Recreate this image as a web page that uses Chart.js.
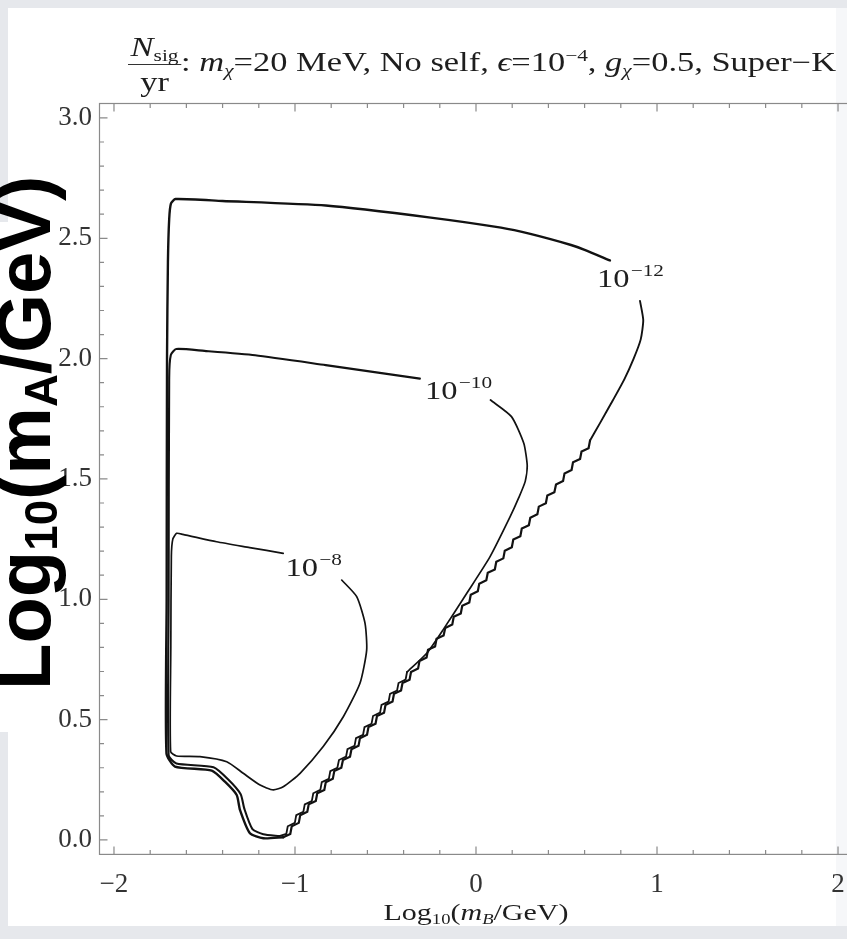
<!DOCTYPE html>
<html>
<head>
<meta charset="utf-8">
<script src="https://cdn.jsdelivr.net/npm/chart.js@4.4.1/dist/chart.umd.min.js"></script>
<style>
  html, body { margin: 0; padding: 0; }
  body { width: 847px; height: 939px; overflow: hidden; position: relative; background: #e6e8ec; font-family: 'Liberation Serif', 'Times New Roman', serif; }
  #panel { position: absolute; left: 8px; top: 8px; width: 828px; height: 918px; background: #fff; }
  #panel2 { position: absolute; left: 0; top: 222px; width: 10px; height: 510px; background: #fff; }
  #rstrip { position: absolute; left: 836px; top: 8px; width: 11px; height: 918px; background: #f6f7f9; }
  #chart { position: absolute; left: 0; top: 0; }
  #ylab { position: absolute; left: -14px; top: 690px; transform-origin: 0 0; transform: rotate(-90deg);
          font: bold 76px 'Liberation Sans', Arial, sans-serif; line-height: 76px; white-space: nowrap; color: #000; }
  #ylab sub { font-size: 0.6em; vertical-align: -0.15em; line-height: 0; }
  #title { position: absolute; left: 128px; top: 34px; transform-origin: 0 0; transform: scaleX(1.3);
           white-space: nowrap; color: #1e1e1e; font-size: 26.5px; line-height: 1; }
  #title .frac { display: inline-block; vertical-align: middle; text-align: center; }
  #title .num { display: block; border-bottom: 1.5px solid #333; padding: 0 2px 3px 2px; }
  #title .den { display: block; padding-top: 4px; }
  #title sub { font-size: 0.62em; vertical-align: -0.3em; line-height: 0; }
  #title sup { font-size: 0.62em; vertical-align: 0.6em; line-height: 0; }
  #xtitle { position: absolute; left: 476px; top: 900px; transform: translateX(-50%) scaleX(1.25);
            white-space: nowrap; color: #1e1e1e; font-size: 24px; line-height: 1; }
  #xtitle sub { font-size: 0.62em; vertical-align: -0.3em; line-height: 0; }
</style>
</head>
<body>
<div id="panel"></div>
<div id="panel2"></div>
<div id="rstrip"></div>
<canvas id="chart" width="870" height="939"></canvas>
<div id="title"><span class="frac"><span class="num"><i>N</i><sub>sig</sub></span><span class="den">yr</span></span>: <i>m</i><sub><i>χ</i></sub>=20 MeV, No self, <i>ϵ</i>=10<sup>−4</sup>, <i>g</i><sub><i>χ</i></sub>=0.5, Super−K</div>
<div id="xtitle">Log<sub>10</sub>(<i>m</i><sub><i>B</i></sub>/GeV)</div>
<div id="ylab">Log<sub>10</sub>(m<sub>A</sub>/GeV)</div>

<script>
// Axis ticks
const xTicks = [-2, -1, 0, 1, 2];
const yTicks = [0, 0.5, 1, 1.5, 2, 2.5, 3];
const xMinor = [-1.8, -1.6, -1.4, -1.2, -0.8, -0.6, -0.4, -0.2, 0.2, 0.4, 0.6, 0.8, 1.2, 1.4, 1.6, 1.8];
const yMinor = [0.1, 0.2, 0.3, 0.4, 0.6, 0.7, 0.8, 0.9, 1.1, 1.2, 1.3, 1.4, 1.6, 1.7, 1.8, 1.9,
                2.1, 2.2, 2.3, 2.4, 2.6, 2.7, 2.8, 2.9];

// N_sig/yr = 1e-12 contour: top edge, left edge and bottom corner
const c12Left = [
  [0.740, 2.408], [0.600, 2.452], [0.525, 2.472], [0.300, 2.518], [0.138, 2.544], [-0.250, 2.586],
  [-0.830, 2.636], [-1.400, 2.655], [-1.660, 2.663], [-1.685, 2.645], [-1.695, 2.580], [-1.702, 2.400],
  [-1.707, 2.000], [-1.709, 1.000], [-1.710, 0.360], [-1.663, 0.305], [-1.460, 0.288], [-1.387, 0.242],
  [-1.322, 0.187], [-1.304, 0.125], [-1.249, 0.028], [-1.175, 0.007], [-1.065, 0.011]
];
// 1e-12 contour: jagged lower-right edge (grid-sampled boundary)
const c12Jag = [
  [-1.065, 0.011], [-1.026, 0.025], [-1.018, 0.057], [-0.979, 0.071], [-0.971, 0.103], [-0.932, 0.117],
  [-0.924, 0.148], [-0.885, 0.162], [-0.877, 0.194], [-0.838, 0.208], [-0.830, 0.240], [-0.791, 0.254],
  [-0.783, 0.286], [-0.744, 0.300], [-0.735, 0.332], [-0.696, 0.346], [-0.688, 0.377], [-0.649, 0.391],
  [-0.641, 0.423], [-0.602, 0.437], [-0.594, 0.469], [-0.555, 0.483], [-0.547, 0.515], [-0.508, 0.529],
  [-0.500, 0.561], [-0.461, 0.575], [-0.453, 0.607], [-0.414, 0.621], [-0.406, 0.652], [-0.367, 0.666],
  [-0.359, 0.698], [-0.320, 0.712], [-0.312, 0.744], [-0.273, 0.758], [-0.265, 0.790], [-0.226, 0.804],
  [-0.218, 0.836], [-0.179, 0.850], [-0.170, 0.881], [-0.131, 0.895], [-0.123, 0.927], [-0.084, 0.941],
  [-0.076, 0.973], [-0.037, 0.987], [-0.029, 1.019], [0.010, 1.033], [0.018, 1.065], [0.057, 1.079],
  [0.065, 1.110], [0.104, 1.124], [0.112, 1.156], [0.151, 1.170], [0.159, 1.202], [0.198, 1.216],
  [0.206, 1.248], [0.245, 1.262], [0.253, 1.294], [0.292, 1.308], [0.300, 1.339], [0.339, 1.353],
  [0.347, 1.385], [0.386, 1.399], [0.394, 1.431], [0.433, 1.445], [0.442, 1.477], [0.481, 1.491],
  [0.489, 1.523], [0.528, 1.537], [0.536, 1.569], [0.575, 1.583], [0.583, 1.614], [0.622, 1.628],
  [0.630, 1.660]
];
// 1e-12 contour: right arc up to its label
const c12Right = [
  [0.630, 1.660], [0.685, 1.732], [0.757, 1.828], [0.820, 1.915], [0.871, 2.000], [0.910, 2.080],
  [0.924, 2.160], [0.906, 2.240]
];

// N_sig/yr = 1e-10 contour
const c10Left = [
  [-0.310, 1.917], [-0.830, 1.973], [-1.220, 2.014], [-1.500, 2.032], [-1.656, 2.040], [-1.686, 2.015],
  [-1.695, 1.920], [-1.698, 1.000], [-1.698, 0.352], [-1.655, 0.318], [-1.450, 0.302], [-1.370, 0.252],
  [-1.300, 0.190], [-1.280, 0.130], [-1.235, 0.045], [-1.175, 0.024], [-1.087, 0.016]
];
const c10Jag = [
  [-1.087, 0.016], [-1.048, 0.025], [-1.040, 0.057], [-1.001, 0.071], [-0.993, 0.103], [-0.954, 0.117],
  [-0.946, 0.148], [-0.907, 0.162], [-0.899, 0.194], [-0.860, 0.208], [-0.852, 0.240], [-0.813, 0.254],
  [-0.805, 0.286], [-0.766, 0.300], [-0.757, 0.332], [-0.718, 0.346], [-0.710, 0.377], [-0.671, 0.391],
  [-0.663, 0.423], [-0.624, 0.437], [-0.616, 0.469], [-0.577, 0.483], [-0.569, 0.515], [-0.530, 0.529],
  [-0.522, 0.561], [-0.483, 0.575], [-0.475, 0.607], [-0.436, 0.621], [-0.428, 0.652], [-0.389, 0.666],
  [-0.381, 0.698]
];
const c10Right = [
  [-0.381, 0.698], [-0.271, 0.777], [-0.182, 0.873], [-0.050, 1.026], [0.077, 1.176], [0.188, 1.342],
  [0.235, 1.420], [0.272, 1.490], [0.283, 1.555], [0.264, 1.648], [0.196, 1.759], [0.080, 1.828]
];

// N_sig/yr = 1e-8 contour
const c8 = [
  [-1.065, 1.191], [-1.250, 1.215], [-1.433, 1.239], [-1.620, 1.270], [-1.654, 1.274], [-1.675, 1.250],
  [-1.683, 1.180], [-1.686, 0.800], [-1.687, 0.367], [-1.654, 0.349], [-1.525, 0.346], [-1.377, 0.325],
  [-1.286, 0.277], [-1.193, 0.228], [-1.120, 0.208], [-1.065, 0.221], [-0.972, 0.277], [-0.844, 0.388],
  [-0.733, 0.512], [-0.641, 0.651], [-0.604, 0.789], [-0.613, 0.900], [-0.659, 1.011], [-0.742, 1.080]
];

// Contour level labels placed in the gaps of each line
const levelLabels = [
  { x: 0.850, y: 2.335, exp: '\u221212' },
  { x: -0.100, y: 1.870, exp: '\u221210' },
  { x: -0.900, y: 1.135, exp: '\u22128' }
];

const toPts = arr => arr.map(p => ({ x: p[0], y: p[1] }));
const LINE = '#121212';
function seg(points, width, extra) {
  return Object.assign({
    data: toPts(points), showLine: true, pointRadius: 0, borderColor: LINE,
    borderWidth: width, fill: false, tension: 0.2, borderJoinStyle: 'round', borderCapStyle: 'round'
  }, extra || {});
}

const framePlugin = {
  id: 'frame',
  afterDatasetsDraw(chart) {
    const { ctx, chartArea: a, scales: { x, y } } = chart;
    ctx.save();
    ctx.strokeStyle = '#8a8a8a';
    ctx.lineWidth = 1.2;
    ctx.strokeRect(a.left, a.top, a.right - a.left, a.bottom - a.top);
    ctx.beginPath();
    const mark = (x0, y0, dx, dy) => { ctx.moveTo(x0, y0); ctx.lineTo(x0 + dx, y0 + dy); };
    xTicks.forEach(v => { const p = x.getPixelForValue(v); mark(p, a.bottom, 0, -8); mark(p, a.top, 0, 8); });
    xMinor.forEach(v => { const p = x.getPixelForValue(v); mark(p, a.bottom, 0, -4.5); mark(p, a.top, 0, 4.5); });
    yTicks.forEach(v => { const p = y.getPixelForValue(v); mark(a.left, p, 8, 0); });
    yMinor.forEach(v => { const p = y.getPixelForValue(v); mark(a.left, p, 4.5, 0); });
    ctx.stroke();
    ctx.restore();
  }
};

const labelPlugin = {
  id: 'levelLabels',
  afterDatasetsDraw(chart) {
    const { ctx, scales: { x, y } } = chart;
    ctx.save();
    ctx.fillStyle = '#1e1e1e';
    ctx.textBaseline = 'alphabetic';
    levelLabels.forEach(l => {
      const px = x.getPixelForValue(l.x), py = y.getPixelForValue(l.y);
      ctx.save();
      ctx.translate(px, py);
      ctx.scale(1.25, 1);
      ctx.font = "26px 'Liberation Serif'";
      const wBase = ctx.measureText('10').width;
      ctx.font = "17px 'Liberation Serif'";
      const wExp = ctx.measureText(l.exp).width;
      const x0 = -(wBase + wExp) / 2;
      ctx.font = "26px 'Liberation Serif'";
      ctx.fillText('10', x0, 9);
      ctx.font = "17px 'Liberation Serif'";
      ctx.fillText(l.exp, x0 + wBase + 1, -2);
      ctx.restore();
    });
    ctx.restore();
  }
};

const tickFont = { family: "'Liberation Serif'", size: 27 };
const fmtX = v => (v < 0 ? '\u2212' + Math.abs(v) : String(v));

new Chart(document.getElementById('chart'), {
  type: 'scatter',
  data: {
    datasets: [
      seg(c12Left, 2.4),
      seg(c12Jag, 2.2, { tension: 0, borderJoinStyle: 'miter' }),
      seg(c12Right, 1.9),
      seg(c10Left, 2.1),
      seg(c10Jag, 1.8, { tension: 0, borderJoinStyle: 'miter' }),
      seg(c10Right, 1.7),
      seg(c8, 1.7)
    ]
  },
  options: {
    responsive: false,
    animation: false,
    devicePixelRatio: 1,
    layout: { padding: { left: 40, top: 103.5, right: 17.5, bottom: 44.6 } },
    plugins: { legend: { display: false }, tooltip: { enabled: false }, title: { display: false } },
    scales: {
      x: {
        type: 'linear', min: -2.08, max: 2.08, position: 'bottom',
        afterBuildTicks: s => { s.ticks = xTicks.map(v => ({ value: v })); },
        afterFit: s => { s.height = 40; },
        grid: { display: false, drawTicks: false },
        border: { display: false },
        ticks: { autoSkip: false, maxRotation: 0, padding: 14, color: '#333', font: tickFont, callback: v => fmtX(v) }
      },
      y: {
        type: 'linear', min: -0.06, max: 3.06, position: 'left',
        afterBuildTicks: s => { s.ticks = yTicks.map(v => ({ value: v })); },
        afterFit: s => { s.width = 59.5; },
        grid: { display: false, drawTicks: false },
        border: { display: false },
        ticks: { autoSkip: false, padding: 7.5, color: '#333', font: tickFont, callback: v => Number(v).toFixed(1) }
      }
    }
  },
  plugins: [framePlugin, labelPlugin]
});
</script>
</body>
</html>
